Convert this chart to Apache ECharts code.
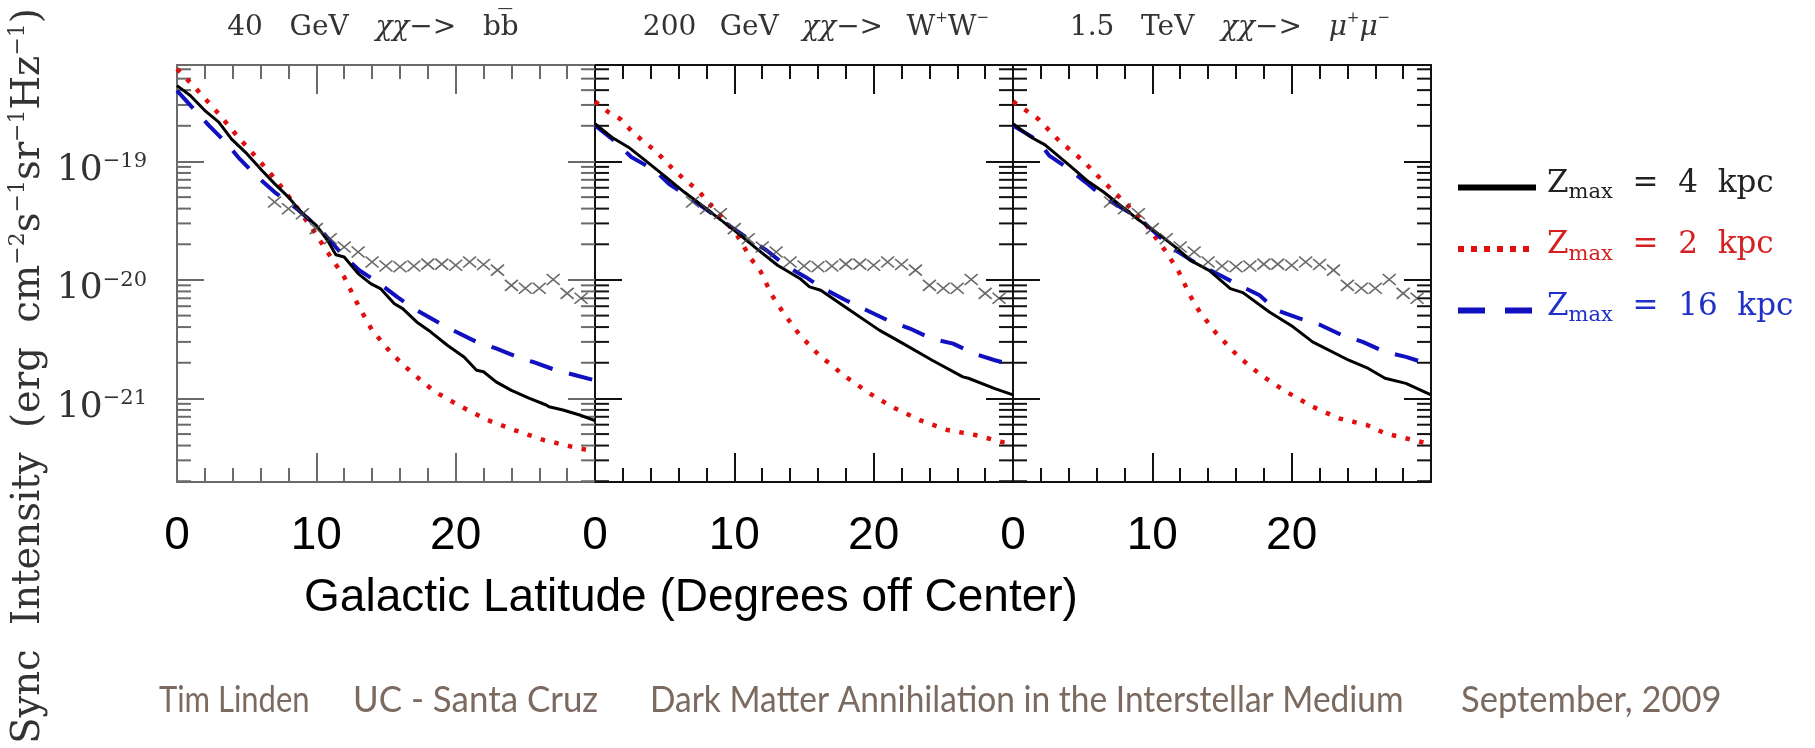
<!DOCTYPE html>
<html>
<head>
<meta charset="utf-8">
<script src="https://cdn.jsdelivr.net/npm/echarts@6/dist/echarts.min.js"></script>
<style>
html,body{margin:0;padding:0;background:#fff;}
#chart{width:1815px;height:748px;}
</style>
</head>
<body>
<div id="chart"></div>
<script>
// ---------------- data ----------------
const PANEL_TITLES = [
  '40   GeV   {it|χχ}−>   bb\u0305',
  '200  \u2009GeV  \u2009{it|χχ}−>  \u2009W{sup|+}W{sup|−}',
  '1.5   TeV   {it|χχ}−>   {it|μ}{sup|+}{it|μ}{sup|−}'
];
const X_MIN = 0, X_MAX = 30, X_INTERVAL = 10;
const Y_MIN = 1.97e-22, Y_MAX = 6.52e-19;
const Y_MINOR_TICKS = [
  2e-22,3e-22,4e-22,5e-22,6e-22,7e-22,8e-22,9e-22,
  2e-21,3e-21,4e-21,5e-21,6e-21,7e-21,8e-21,9e-21,
  2e-20,3e-20,4e-20,5e-20,6e-20,7e-20,8e-20,9e-20,
  2e-19,3e-19,4e-19,5e-19,6e-19
];
const LEGEND_KPC = {z4: '4', z2: '2', z16: '16'};

// observed points (crosses), same in all panels
const CROSS_X = [7,8,9,10,11,12,13,14,15,16,17,18,19,20,21,22,23,24,25,26,27,28,29];
const CROSS_Y = [4.54e-20,3.99e-20,3.62e-20,2.71e-20,2.23e-20,1.90e-20,1.72e-20,1.42e-20,1.31e-20,1.29e-20,1.31e-20,1.36e-20,1.36e-20,1.33e-20,1.42e-20,1.35e-20,1.21e-20,9.0e-21,8.5e-21,8.5e-21,1.01e-20,7.7e-21,7.0e-21];

// Panel 1: 40 GeV -> b bbar
const P1_Z4_X = [0,0.95,2,3,3.9,4.9,6.1,7,8,8.9,10,10.8,11.4,12,13,13.9,14.6,15.6,16.2,17.2,18.2,19.4,20.6,21.5,22,22.9,24,25.3,26.5,26.7,27.7,28.9,30];
const P1_Z4_Y = [4.37e-19,3.60e-19,2.69e-19,2.15e-19,1.55e-19,1.20e-19,8.4e-20,6.5e-20,5.0e-20,3.74e-20,2.89e-20,2.16e-20,1.63e-20,1.56e-20,1.13e-20,9.3e-21,8.45e-21,6.3e-21,5.73e-21,4.42e-21,3.65e-21,2.81e-21,2.24e-21,1.73e-21,1.68e-21,1.38e-21,1.17e-21,1.0e-21,8.8e-22,8.5e-22,7.98e-22,7.24e-22,6.5e-22];
const P1_Z2_X = [0,1.5,3,4.4,5.8,7.2,8.5,9.7,10.8,12,13,14,15.4,16.9,18.5,20.4,22.3,24.2,26.3,28.3,30];
const P1_Z2_Y = [6.04e-19,3.96e-19,2.52e-19,1.60e-19,1.05e-19,6.78e-20,4.26e-20,2.71e-20,1.72e-20,1.06e-20,6.12e-21,3.77e-21,2.39e-21,1.63e-21,1.14e-21,8.51e-22,6.56e-22,5.41e-22,4.46e-22,3.92e-22,3.55e-22];
const P1_Z16_X = [0,1.3,2.3,3.6,4.5,5.8,7,8.7,9.4,10.5,11.8,13.1,14.4,15.8,17.2,18.7,19.8,21.5,22.9,24.7,25.5,27.2,28.6,30];
const P1_Z16_Y = [3.96e-19,2.69e-19,2.01e-19,1.41e-19,1.05e-19,7.38e-20,5.52e-20,3.9e-20,3.3e-20,2.5e-20,1.67e-20,1.20e-20,9.6e-21,7.19e-21,5.55e-21,4.42e-21,3.77e-21,3.00e-21,2.64e-21,2.17e-21,2.04e-21,1.73e-21,1.57e-21,1.42e-21];

// Panel 2: 200 GeV -> W+W-
const P2_Z4_X = [0,1.2,2.4,3.6,5.1,6.4,8.3,10,11.6,13.1,14.7,15.4,16.2,18.3,20.4,21.9,24.2,26.4,26.8,28.7,30];
const P2_Z4_Y = [2.08e-19,1.60e-19,1.32e-19,1.02e-19,7.38e-20,5.52e-20,3.74e-20,2.62e-20,1.84e-20,1.33e-20,1.03e-20,8.73e-21,8.18e-21,5.55e-21,3.77e-21,3.00e-21,2.10e-21,1.52e-21,1.48e-21,1.21e-21,1.07e-21];
const P2_Z2_X = [0,0.95,1.8,2.6,3.4,4.3,5,5.7,6.5,7.4,8.1,8.8,9.5,10.2,11.2,11.9,12.7,13.4,14,14.7,15.4,16.2,17,17.8,18.7,19.5,21.3,23.3,25.3,27.3,29.3,30];
const P2_Z2_Y = [3.21e-19,2.61e-19,2.29e-19,1.82e-19,1.50e-19,1.24e-19,1.02e-19,8.4e-20,6.92e-20,5.70e-20,4.54e-20,3.74e-20,2.98e-20,2.38e-20,1.51e-20,1.17e-20,7.43e-21,5.55e-21,4.42e-21,3.42e-21,2.81e-21,2.24e-21,1.91e-21,1.57e-21,1.34e-21,1.14e-21,8.51e-22,6.56e-22,5.41e-22,4.91e-22,4.26e-22,4.1e-22];
const P2_Z16_X = [0,1.5,2.6,4.3,5.3,6.9,9.1,11,12.3,13.8,15.1,16.4,18,19.5,21,22.6,24.1,25.7,27.2,28.7,30];
const P2_Z16_Y = [2.01e-19,1.46e-19,1.09e-19,8.4e-20,6.48e-20,4.84e-20,3.18e-20,2.23e-20,1.78e-20,1.29e-20,1.06e-20,8.45e-21,6.74e-21,5.55e-21,4.57e-21,3.89e-21,3.21e-21,2.90e-21,2.39e-21,2.10e-21,1.92e-21];

// Panel 3: 1.5 TeV -> mu+mu-
const P3_Z4_X = [0,1.3,2.3,4.2,5.3,6.5,8.9,10.1,11.8,12.7,14.1,15.6,16.5,18.4,20.1,21.5,24.1,25.5,26.7,28.2,30];
const P3_Z4_Y = [2.08e-19,1.60e-19,1.38e-19,8.95e-20,6.92e-20,5.52e-20,3.29e-20,2.62e-20,1.84e-20,1.47e-20,1.20e-20,8.45e-21,7.82e-21,5.37e-21,4.02e-21,3.00e-21,2.10e-21,1.79e-21,1.48e-21,1.34e-21,1.07e-21];
const P3_Z2_X = [0,1.8,3.3,5,6.4,8,9.5,11,11.9,12.7,13.4,14.6,16.2,17.8,19.6,21.5,23.4,25.4,26.7,28.7,30];
const P3_Z2_Y = [3.21e-19,2.29e-19,1.50e-19,1.02e-19,6.92e-20,4.54e-20,2.98e-20,1.72e-20,1.17e-20,7.4e-21,5.37e-21,3.53e-21,2.24e-21,1.57e-21,1.14e-21,8.51e-22,6.78e-22,5.96e-22,5.07e-22,4.46e-22,4.1e-22];
const P3_Z16_X = [0,1.8,2.6,4,5.2,6.5,9.1,11.3,13.2,14.9,16,17.7,18.9,20.6,22.1,23.6,25.1,26.7,28.2,30];
const P3_Z16_Y = [2.01e-19,1.50e-19,1.12e-19,8.67e-20,6.70e-20,5.00e-20,3.29e-20,1.90e-20,1.37e-20,1.09e-20,9.3e-21,7.43e-21,5.55e-21,4.72e-21,4.15e-21,3.42e-21,3.00e-21,2.47e-21,2.24e-21,1.92e-21];

const PANELS = [
  {z4: [P1_Z4_X, P1_Z4_Y], z2: [P1_Z2_X, P1_Z2_Y], z16: [P1_Z16_X, P1_Z16_Y]},
  {z4: [P2_Z4_X, P2_Z4_Y], z2: [P2_Z2_X, P2_Z2_Y], z16: [P2_Z16_X, P2_Z16_Y]},
  {z4: [P3_Z4_X, P3_Z4_Y], z2: [P3_Z2_X, P3_Z2_Y], z16: [P3_Z16_X, P3_Z16_Y]}
];

// ---------------- layout / style ----------------
const GRID_LEFT = [177, 595, 1013];
const GRID_TOP = 65, GRID_W = 418, GRID_H = 417;
const TITLE_CENTER = [368, 811, 1225];
const AXIS_COLORS = ['#6a6a6a', '#111', '#111'];
const C_BLACK = '#000000', C_RED = '#e01010', C_BLUE = '#1010c0';
const SERIF = 'DejaVu Serif';
const FOOT_COLOR = '#7b6a60';

function zip(xs, ys) { return xs.map((x, k) => [x, ys[k]]); }

const grids = [], xAxes = [], yAxes = [], series = [];
PANELS.forEach((p, i) => {
  const ac = AXIS_COLORS[i];
  grids.push({left: GRID_LEFT[i], top: GRID_TOP, width: GRID_W, height: GRID_H, outerBoundsMode: 'none', containLabel: false});
  const xBase = {
    type: 'value', gridIndex: i, min: X_MIN, max: X_MAX, interval: X_INTERVAL,
    splitLine: {show: false}, minorSplitLine: {show: false},
    axisLine: {show: true, onZero: false, lineStyle: {color: ac, width: 2}},
    axisTick: {show: true, inside: true, length: 29, lineStyle: {color: ac, width: 2}},
    minorTick: {show: true, splitNumber: 5, length: 14, lineStyle: {color: ac, width: 2}}
  };
  xAxes.push(Object.assign({}, xBase, {
    position: 'bottom',
    axisLabel: {show: true, margin: 31, fontFamily: 'Liberation Sans', fontSize: 46, color: '#000',
      formatter: v => (v === X_MAX ? '' : String(v))}
  }));
  xAxes.push(Object.assign({}, xBase, {position: 'top', axisLabel: {show: false}}));
  const yBase = {
    type: 'log', logBase: 10, gridIndex: i, min: Y_MIN, max: Y_MAX,
    splitLine: {show: false},
    axisLine: {show: true, onZero: false, lineStyle: {color: ac, width: 2}},
    axisTick: {show: true, inside: true, length: 27, lineStyle: {color: ac, width: 2}},
    minorTick: {show: false}
  };
  yAxes.push(Object.assign({}, yBase, {
    position: 'left',
    axisLabel: i === 0 ? {
      show: true, margin: 30, padding: [18, 0, 0, 0], color: '#333',
      formatter: v => {
        const e = Math.log10(v);
        if (Math.abs(e - Math.round(e)) > 1e-6) return '';
        return '{b|10}{s|−' + Math.abs(Math.round(e)) + '}';
      },
      rich: {
        b: {fontFamily: SERIF, fontSize: 36, lineHeight: 38, color: '#333'},
        s: {fontFamily: SERIF, fontSize: 21, lineHeight: 12, verticalAlign: 'top', color: '#333'}
      }
    } : {show: false}
  }));
  yAxes.push(Object.assign({}, yBase, {position: 'right', axisLabel: {show: false}}));

  const xi = 2 * i, yi = 2 * i;
  series.push({type: 'line', name: 'z2', xAxisIndex: xi, yAxisIndex: yi, data: zip(p.z2[0], p.z2[1]),
    symbol: 'none', lineStyle: {color: C_RED, width: 4.5, type: [4.5, 9.5]}, itemStyle: {color: C_RED}, z: 3});
  series.push({type: 'line', name: 'z16', xAxisIndex: xi, yAxisIndex: yi, data: zip(p.z16[0], p.z16[1]),
    symbol: 'none', lineStyle: {color: C_BLUE, width: 4, type: [24, 17]}, itemStyle: {color: C_BLUE}, z: 3});
  series.push({type: 'line', name: 'z4', xAxisIndex: xi, yAxisIndex: yi, data: zip(p.z4[0], p.z4[1]),
    symbol: 'none', lineStyle: {color: C_BLACK, width: 3}, itemStyle: {color: C_BLACK}, z: 4});
  series.push({type: 'scatter', name: 'data', xAxisIndex: xi, yAxisIndex: yi, data: zip(CROSS_X, CROSS_Y),
    symbol: 'path://M0,0L10,10M10,0L0,10', symbolSize: [13, 11],
    itemStyle: {color: 'none', borderColor: '#444', borderWidth: 1.6}, z: 5, silent: true});
  series.push({type: 'custom', name: 'minorTicks', xAxisIndex: xi, yAxisIndex: yi, silent: true, clip: false,
    data: Y_MINOR_TICKS.map(v => [X_MIN, v]),
    renderItem: (params, api) => {
      const v = api.value(1);
      const l = api.coord([X_MIN, v]);
      const r = api.coord([X_MAX, v]);
      return {type: 'group', children: [
        {type: 'line', shape: {x1: l[0], y1: l[1], x2: l[0] + 14, y2: l[1]}, style: {stroke: ac, lineWidth: 2}},
        {type: 'line', shape: {x1: r[0] - 14, y1: r[1], x2: r[0], y2: r[1]}, style: {stroke: ac, lineWidth: 2}}
      ]};
    }});
});

const titleRich = {
  it: {fontFamily: SERIF, fontSize: 28, fontStyle: 'italic', color: '#333', lineHeight: 34},
  sup: {fontFamily: SERIF, fontSize: 15, verticalAlign: 'top', lineHeight: 18, color: '#333'}
};

function footText(x, txt, sx) {
  return {type: 'text', x: x, y: 700, scaleX: sx, silent: true,
    style: {text: txt, fontFamily: 'Lato', fontSize: 36, fill: FOOT_COLOR, align: 'left', verticalAlign: 'middle'}};
}

const option = {
  animation: false,
  backgroundColor: '#ffffff',
  title: PANEL_TITLES.map((t, i) => ({
    text: t, left: TITLE_CENTER[i], top: 6, textAlign: 'center',
    textStyle: {fontFamily: SERIF, fontSize: 28, fontWeight: 'normal', color: '#333', lineHeight: 34, rich: titleRich}
  })),
  legend: {
    show: true, orient: 'vertical', left: 1450, top: 163, itemWidth: 78, itemHeight: 14, itemGap: 26,
    selectedMode: false,
    itemStyle: {color: 'rgba(0,0,0,0)', borderColor: 'rgba(0,0,0,0)', borderWidth: 0, opacity: 0},
    data: [
      {name: 'z4', textStyle: {color: '#222'}, lineStyle: {width: 6}},
      {name: 'z2', textStyle: {color: '#d42020'}, lineStyle: {width: 6, type: [6, 7]}},
      {name: 'z16', textStyle: {color: '#2030c8'}, lineStyle: {width: 6, type: [27, 20]}}
    ],
    formatter: n => '{z|Z}{m|max}{t|  =  ' + LEGEND_KPC[n] + '  kpc}',
    textStyle: {
      padding: [0, 0, 8, 6],
      rich: {
        z: {fontFamily: SERIF, fontSize: 31, lineHeight: 40},
        m: {fontFamily: SERIF, fontSize: 21, lineHeight: 10, verticalAlign: 'bottom'},
        t: {fontFamily: SERIF, fontSize: 31, lineHeight: 40}
      }
    }
  },
  grid: grids,
  xAxis: xAxes,
  yAxis: yAxes,
  series: series,
  graphic: [
    {type: 'text', x: 29, y: 376, rotation: Math.PI / 2, silent: true,
      style: {text: 'Sync  Intensity  (erg  cm{s|−2}s{s|−1}sr{s|−1}Hz{s|−1})',
        fontFamily: SERIF, fontSize: 38.5, fill: '#333', align: 'center', verticalAlign: 'middle', lineHeight: 44,
        rich: {s: {fontFamily: SERIF, fontSize: 22, lineHeight: 20, verticalAlign: 'top', fill: '#333'}}}},
    {type: 'text', x: 691, y: 598, silent: true,
      style: {text: 'Galactic Latitude (Degrees off Center)', fontFamily: 'Liberation Sans', fontSize: 46,
        fill: '#000', align: 'center', verticalAlign: 'middle'}},
    footText(159, 'Tim Linden', 0.86),
    footText(353, 'UC - Santa Cruz', 0.97),
    footText(650, 'Dark Matter Annihilation in the Interstellar Medium', 0.93),
    footText(1461, 'September, 2009', 0.96)
  ]
};

const chart = echarts.init(document.getElementById('chart'), null, {renderer: 'canvas'});
chart.setOption(option);
</script>
</body>
</html>
